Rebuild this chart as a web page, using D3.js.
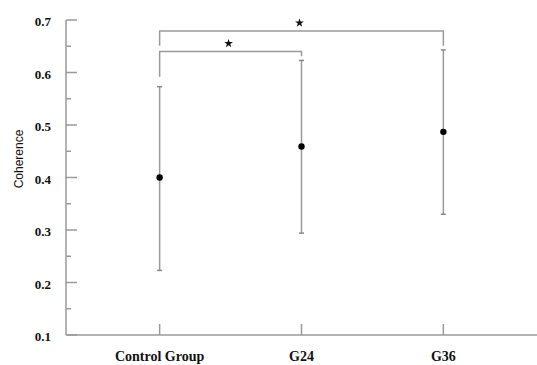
<!DOCTYPE html>
<html>
<head>
<meta charset="utf-8">
<script src="https://cdn.jsdelivr.net/npm/d3@7"></script>
<style>
  html, body { margin: 0; padding: 0; background: #fff; }
  svg { display: block; }
</style>
</head>
<body>
<svg id="chart" width="537" height="365"></svg>
<script>
// Group means of coherence with their error ranges
const groups = ["Control Group", "G24", "G36"];
const means = [0.400, 0.459, 0.487];
const upper = [0.573, 0.623, 0.643];
const lower = [0.223, 0.294, 0.330];

// Y-axis ticks
const majorTicks = [0.1, 0.2, 0.3, 0.4, 0.5, 0.6, 0.7];
const minorTicks = [0.15, 0.25, 0.35, 0.45, 0.55, 0.65];

// Significance brackets: [from, to, bar level, left leg end, right leg end]
const bracketFrom = ["Control Group", "Control Group"];
const bracketTo = ["G36", "G24"];
const bracketLevel = [0.679, 0.640];
const bracketLeftEnd = [0.651, 0.592];
const bracketRightEnd = [0.651, 0.631];

const svg = d3.select("#chart");
const axisColor = "#9a9a9a";
const serif = "'Liberation Serif', 'Times New Roman', serif";

const y = d3.scaleLinear().domain([0.1, 0.7]).range([335, 20]);
const x = d3.scalePoint().domain(groups).range([66, 537]).padding(0.66);

// Y axis line
svg.append("line")
  .attr("x1", 66).attr("x2", 66)
  .attr("y1", y(0.7)).attr("y2", y(0.1))
  .attr("stroke", axisColor).attr("stroke-width", 1.5);

// X axis line
svg.append("line")
  .attr("x1", 66).attr("x2", 537)
  .attr("y1", y(0.1)).attr("y2", y(0.1))
  .attr("stroke", axisColor).attr("stroke-width", 1.5);

// Major ticks (inward) with labels
svg.selectAll(".ymaj").data(majorTicks).enter().append("line")
  .attr("x1", 66).attr("x2", 77)
  .attr("y1", d => y(d)).attr("y2", d => y(d))
  .attr("stroke", axisColor).attr("stroke-width", 1.5);

svg.selectAll(".ylab").data(majorTicks).enter().append("text")
  .attr("x", 51).attr("y", d => y(d) + 6)
  .attr("text-anchor", "end")
  .attr("font-family", serif).attr("font-weight", "bold")
  .attr("font-size", 13).attr("fill", "#111")
  .text(d => d3.format(".1f")(d));

// Minor ticks
svg.selectAll(".ymin").data(minorTicks).enter().append("line")
  .attr("x1", 66).attr("x2", 71)
  .attr("y1", d => y(d)).attr("y2", d => y(d))
  .attr("stroke", axisColor).attr("stroke-width", 1.5);

// X ticks (inward) and category labels
svg.selectAll(".xtick").data(groups).enter().append("line")
  .attr("x1", d => x(d)).attr("x2", d => x(d))
  .attr("y1", y(0.1)).attr("y2", y(0.1) - 11)
  .attr("stroke", axisColor).attr("stroke-width", 1.5);

svg.selectAll(".xlab").data(groups).enter().append("text")
  .attr("x", d => x(d)).attr("y", 361)
  .attr("text-anchor", "middle")
  .attr("font-family", serif).attr("font-weight", "bold")
  .attr("font-size", 14).attr("fill", "#111")
  .text(d => d);

// Y axis title
svg.append("text")
  .attr("transform", "translate(23,159) rotate(-90)")
  .attr("text-anchor", "middle")
  .attr("font-family", "'Liberation Sans', Arial, sans-serif")
  .attr("font-size", 12).attr("fill", "#111")
  .text("Coherence");

// Error bars
const eb = svg.append("g");
groups.forEach((g, i) => {
  eb.append("line")
    .attr("x1", x(g)).attr("x2", x(g))
    .attr("y1", y(upper[i])).attr("y2", y(lower[i]))
    .attr("stroke", axisColor).attr("stroke-width", 1.5);
  [upper[i], lower[i]].forEach(v => {
    eb.append("line")
      .attr("x1", x(g) - 2.5).attr("x2", x(g) + 2.5)
      .attr("y1", y(v)).attr("y2", y(v))
      .attr("stroke", "#888").attr("stroke-width", 1.5);
  });
});

// Mean points
svg.selectAll(".pt").data(groups).enter().append("circle")
  .attr("cx", d => x(d)).attr("cy", (d, i) => y(means[i]))
  .attr("r", 3.2).attr("fill", "#000");

// Significance brackets with stars
const star = d3.symbol().type(d3.symbolStar).size(24);
bracketFrom.forEach((f, i) => {
  const x1 = x(f), x2 = x(bracketTo[i]);
  const path = d3.path();
  path.moveTo(x1, y(bracketLeftEnd[i]));
  path.lineTo(x1, y(bracketLevel[i]));
  path.lineTo(x2, y(bracketLevel[i]));
  path.lineTo(x2, y(bracketRightEnd[i]));
  svg.append("path")
    .attr("d", path.toString())
    .attr("fill", "none").attr("stroke", axisColor).attr("stroke-width", 1.5);
  svg.append("path")
    .attr("d", star())
    .attr("transform", `translate(${(x1 + x2) / 2 - 2},${y(bracketLevel[i]) - 8})`)
    .attr("fill", "#111");
});
</script>
</body>
</html>
